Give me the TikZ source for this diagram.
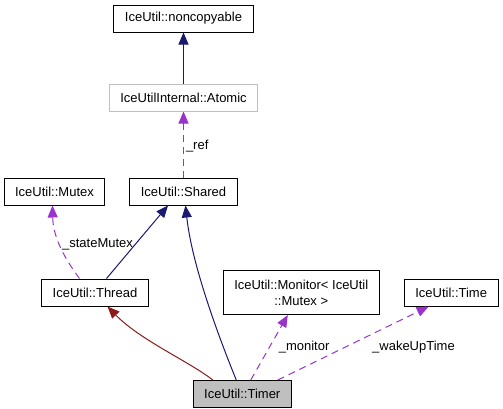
\documentclass[tikz,border=0pt]{standalone}
\usepackage{fontspec}
\setmainfont{Liberation Sans}
\usetikzlibrary{positioning, arrows.meta}
\definecolor{inhblue}{HTML}{191970}
\definecolor{usepurple}{HTML}{9A32CD}
\definecolor{privred}{HTML}{8B1A1A}
\definecolor{boxgrey}{HTML}{BFBFBF}

\begin{document}
\begin{tikzpicture}[x=1pt, y=1pt, font=\fontsize{13}{16}\selectfont,
		cls/.style={draw, line width=1pt, minimum height=27pt, inner xsep=11pt, inner ysep=3pt},
		inh/.style={inhblue, line width=1pt, -{Triangle[length=12pt,width=10pt]}},
		priv/.style={privred, line width=1pt, -{Triangle[length=12pt,width=10pt]}},
		usage/.style={usepurple, line width=1pt, dash pattern=on 7pt off 5pt, -{Triangle[length=12pt,width=10pt]}},
		lbl/.style={text=black, inner sep=2pt}]
			\useasboundingbox (0,0) rectangle (503,-408);
			\node[cls]  (noncopy)  at (183.5,-18.5)  {IceUtil::noncopyable};
			\node[cls, draw=boxgrey, below=51pt of noncopy]  (atomic)  {IceUtilInternal::Atomic};
			\node[cls, below=66pt of atomic]  (shared)  {IceUtil::Shared};
			\node[cls, left=24pt of shared]  (mutex)  {IceUtil::Mutex};
			\node[cls, below=73pt of mutex, xshift=40.5pt]  (thread)  {IceUtil::Thread};
			\node[cls, align=center, right=74pt of thread, minimum height=44pt]  (monitor)  {IceUtil::Monitor< IceUtil\\::Mutex >};
			\node[cls, right=24pt of monitor]  (time)  {IceUtil::Time};
			\node[cls, fill=boxgrey, below=65pt of monitor, xshift=-59pt]  (timer)  {IceUtil::Timer};

			\draw[inh] (atomic) -- (noncopy) ;
			\draw[usage] (shared) -- node[lbl, pos=0.47, right] {\_ref} (atomic) ;
			\draw[usage] ([xshift=-15.5pt]thread.north) .. controls (62,-255) and (53,-235) .. node[lbl, pos=0.5, right] {\_stateMutex} ([xshift=-2pt]mutex.south) ;
			\draw[inh] ([xshift=11.5pt]thread.north) -- ([xshift=-15.5pt]shared.south) ;
			\draw[inh] ([xshift=-6pt]timer.north) .. controls (218,-335) and (192,-265) .. ([xshift=2pt]shared.south) ;
			\draw[priv] ([xshift=-29.5pt]timer.north) .. controls (190,-362) and (140,-340) .. ([xshift=12.5pt]thread.south) ;
			\draw[usage] ([xshift=8.5pt]timer.north) -- node[lbl, pos=0.5, right=7pt] {\_monitor} ([xshift=-13.5pt]monitor.south) ;
			\draw[usage] ([xshift=35.5pt]timer.north) -- node[lbl, pos=0.45, right=24pt] {\_wakeUpTime} ([xshift=-22.5pt]time.south) ;
		\end{tikzpicture}
\end{document}
